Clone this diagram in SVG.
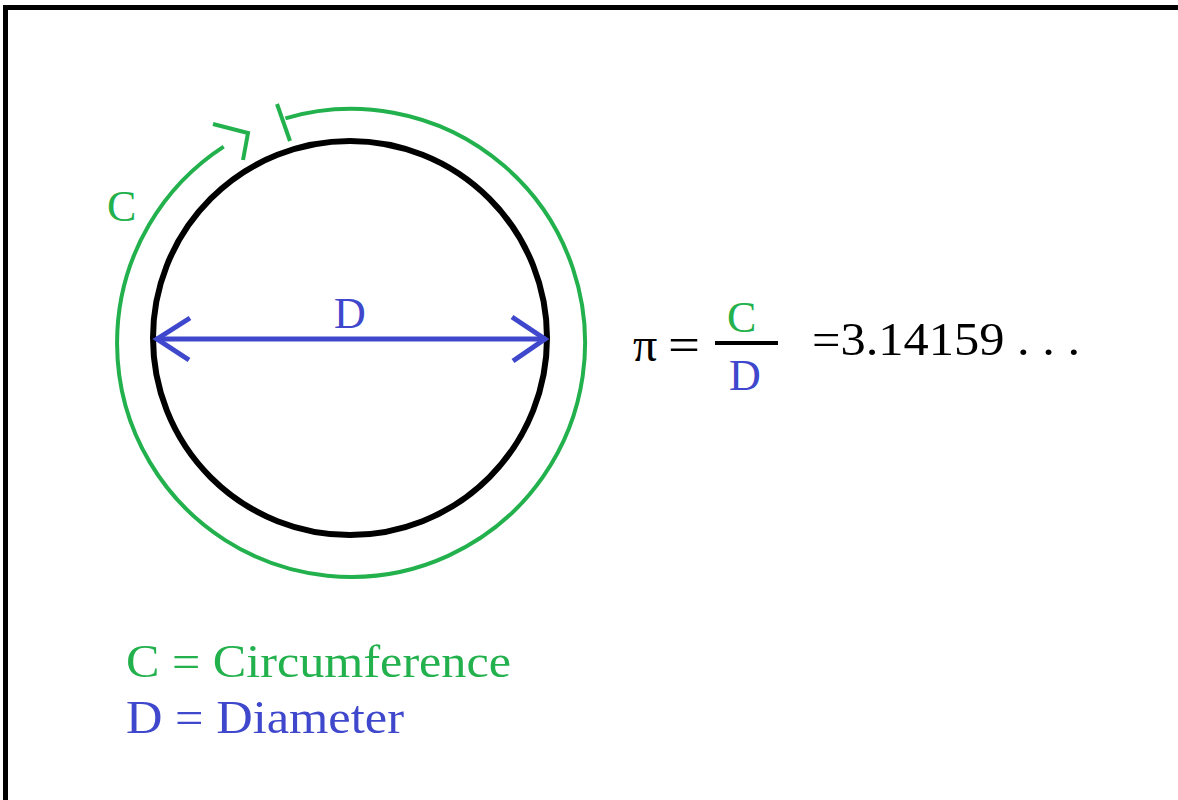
<svg xmlns="http://www.w3.org/2000/svg" width="1178" height="800" viewBox="0 0 1178 800">
<style>
.t{font-family:"Liberation Serif","Times New Roman",serif}
.g{fill:#22b14c}
.b{fill:#3f48cc}
.k{fill:#000}
</style>
<rect width="1178" height="800" fill="#fff"/>
<g id="frame"><path d="M5.5 800 V7.5 H1178" fill="none" stroke="#000" stroke-width="5"/></g>
<g id="circle"><circle cx="350" cy="338" r="197" fill="none" stroke="#000" stroke-width="6"/></g>
<g id="connectors">
<path d="M285.4 118.3 A234 234 0 1 1 223.7 146.6" fill="none" stroke="#22b14c" stroke-width="4"/>
<path d="M213 124 L248 133 L243 160" fill="none" stroke="#22b14c" stroke-width="4"/>
<path d="M277 104 L290 141" fill="none" stroke="#22b14c" stroke-width="4"/>
<line x1="156" y1="339" x2="546" y2="339" stroke="#3f48cc" stroke-width="5"/>
<path d="M190 318 L157 339 L189 360" fill="none" stroke="#3f48cc" stroke-width="5"/>
<path d="M512 317 L545 339 L513 361" fill="none" stroke="#3f48cc" stroke-width="5"/>
</g>
<g id="labels">
<text class="t g" x="107" y="221" font-size="44">C</text>
<text class="t b" x="334" y="328" font-size="44">D</text>
</g>
<g id="formula">
<text class="t k" x="633" y="361" font-size="48">π</text>
<text class="t k" x="668" y="361" font-size="48" textLength="32" lengthAdjust="spacingAndGlyphs">=</text>
<line x1="715" y1="343" x2="778" y2="343" stroke="#000" stroke-width="4"/>
<text class="t g" x="727" y="332" font-size="44">C</text>
<text class="t b" x="729" y="390" font-size="44">D</text>
<text class="t k" x="812" y="355" font-size="46" textLength="268" lengthAdjust="spacingAndGlyphs">=3.14159 . . .</text>
</g>
<g id="legend">
<text class="t g" x="126" y="677" font-size="46" textLength="385" lengthAdjust="spacingAndGlyphs">C = Circumference</text>
<text class="t b" x="126" y="733" font-size="46" textLength="278" lengthAdjust="spacingAndGlyphs">D = Diameter</text>
</g>
</svg>
